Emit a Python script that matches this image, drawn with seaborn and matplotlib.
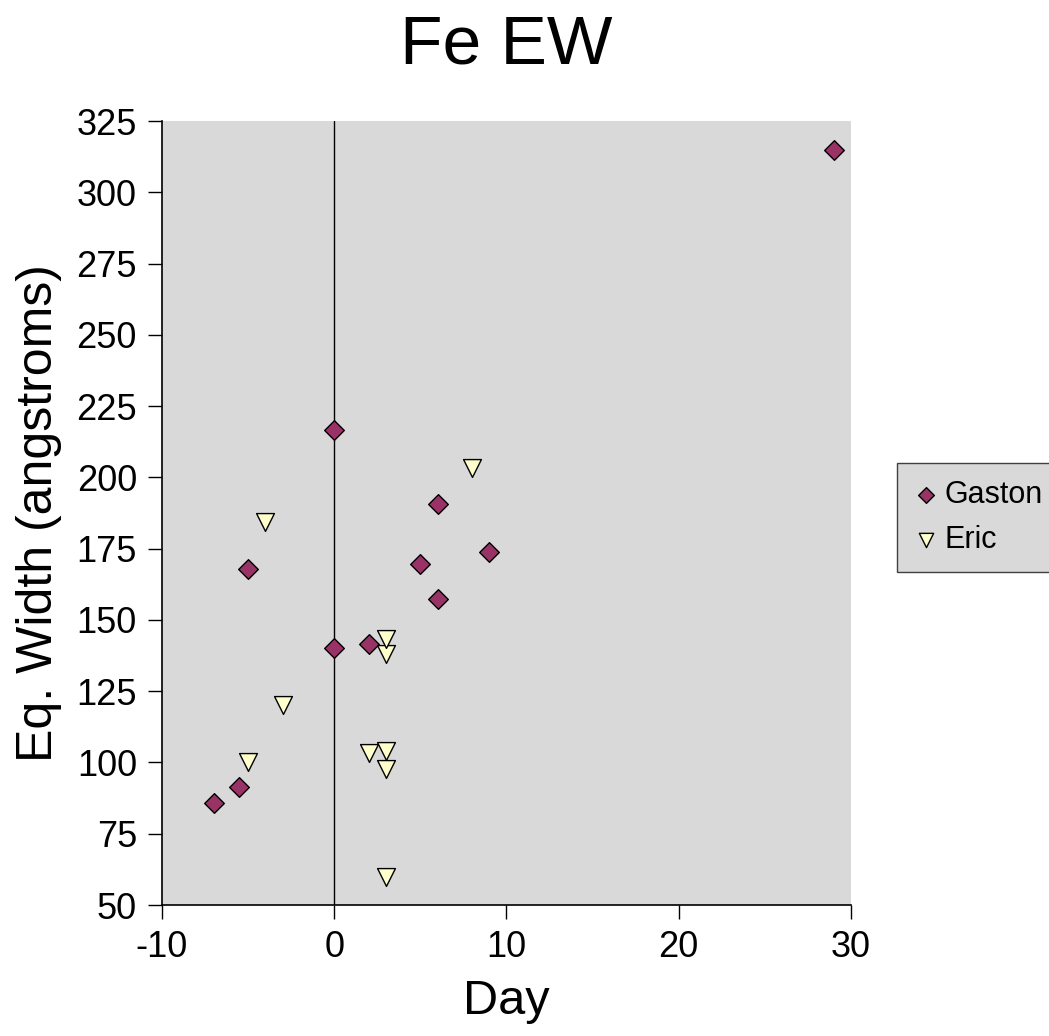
import matplotlib
matplotlib.use('Agg')
import matplotlib.pyplot as plt
import seaborn as sns

# Gaston points (day, eq. width)
gaston_day = [-7, -5.5, -5, 0, 0, 2, 5, 6, 6, 9, 29]
gaston_ew = [85.8, 91.4, 168, 216.5, 140.3, 141.4, 169.5, 190.8, 157.2, 173.7, 315]

# Eric points
eric_day = [-5, -4, -3, 2, 3, 3, 3, 3, 3, 8]
eric_ew = [100, 184.3, 120, 103.5, 104.2, 97.8, 138.2, 143.3, 60, 203.3]

sns.set_theme(style='white')
plt.rcParams['font.family'] = ['Liberation Sans', 'DejaVu Sans']
plt.rcParams['axes.unicode_minus'] = False
plt.rcParams['text.color'] = 'black'
plt.rcParams['axes.labelcolor'] = 'black'
plt.rcParams['xtick.color'] = 'black'
plt.rcParams['ytick.color'] = 'black'

fig = plt.figure(figsize=(10.49, 10.36), dpi=100)
ax = fig.add_axes([0.1544, 0.1264, 0.6568, 0.7568])
ax.set_facecolor('#d9d9d9')

ax.axvline(0, color='black', lw=1, zorder=1)

sns.scatterplot(x=gaston_day, y=gaston_ew, color='#993366', marker='D',
                s=100, edgecolor='black', linewidth=1, label='Gaston',
                ax=ax, zorder=3)
sns.scatterplot(x=eric_day, y=eric_ew, color='#ffffcc', marker='v',
                s=165, edgecolor='black', linewidth=1, label='Eric',
                ax=ax, zorder=3)

ax.set_xlim(-10, 30)
ax.set_ylim(50, 325)
ax.set_xticks([-10, 0, 10, 20, 30])
ax.set_yticks(range(50, 326, 25))
ax.tick_params(axis='both', which='major', labelsize=26, length=10, width=1,
               color='black', direction='out', left=True, bottom=True, pad=8)

for side in ['top', 'right']:
    ax.spines[side].set_visible(False)
for side in ['left', 'bottom']:
    ax.spines[side].set_color('black')
    ax.spines[side].set_linewidth(1.2)

ax.set_xlabel('Day', fontsize=35, labelpad=10)
ax.set_ylabel('Eq. Width (angstroms)', fontsize=36, labelpad=10)

fig.text(0.483, 1 - 63 / 1036, 'Fe EW', ha='center', va='baseline', fontsize=50)

leg = ax.legend(loc='upper left',
                bbox_to_anchor=(897 / 1049, 1 - 463 / 1036),
                bbox_transform=fig.transFigure, fontsize=22, markerscale=0.8,
                frameon=True, fancybox=False, facecolor='#d9d9d9',
                edgecolor='#404040', borderpad=0.55, handletextpad=0.2,
                handlelength=0.8, labelspacing=0.5, borderaxespad=0)
leg.get_frame().set_linewidth(1)
leg.get_frame().set_alpha(1)

fig.savefig('out.png', dpi=100)
